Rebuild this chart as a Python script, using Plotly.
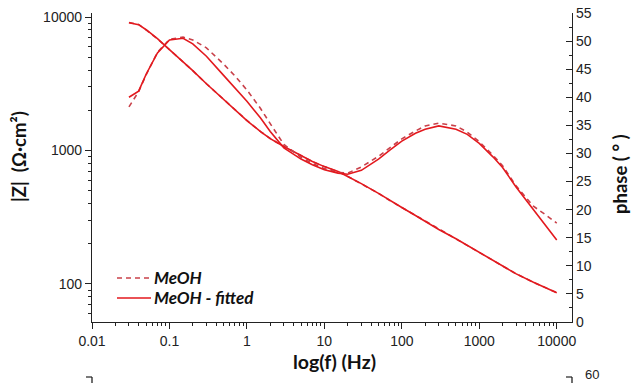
import plotly.graph_objects as go

# ---- data ----
freq = [0.03, 0.04, 0.05, 0.07, 0.1, 0.15, 0.2, 0.3, 0.5, 0.7, 1, 1.5, 2, 3, 5, 7,
        10, 15, 20, 30, 50, 70, 100, 150, 200, 300, 500, 700, 1000, 1500, 2000,
        3000, 5000, 7000, 10000]

z_data = [9100, 8800, 8000, 6850, 5700, 4620, 3960, 3160, 2400, 2020, 1680, 1385,
          1230, 1070, 915, 826, 757, 695, 640, 565, 477, 422, 374, 326, 294, 256,
          218, 195, 172, 150, 136, 119, 103, 94, 86]
z_fit = [9060, 8760, 8030, 6880, 5690, 4620, 3960, 3160, 2400, 2020, 1675, 1385,
         1227, 1070, 916, 826, 757, 695, 638, 565, 477, 422, 374, 326, 294, 256,
         218, 195, 172, 150, 136, 119, 103, 94.5, 86]

phase_data = [38.3, 41.0, 44.0, 48.0, 50.3, 50.7, 50.2, 48.8, 45.9, 43.8, 41.3, 38.0,
              35.3, 31.6, 29.3, 28.2, 27.3, 26.6, 26.5, 27.6, 29.5, 31.0, 32.6, 34.0,
              34.9, 35.4, 34.9, 33.8, 32.1, 29.7, 27.8, 24.2, 20.6, 19.2, 17.6]
phase_fit = [40.0, 41.1, 44.1, 47.9, 50.2, 50.5, 49.5, 47.3, 43.9, 41.6, 39.3, 36.3,
             33.9, 31.0, 29.0, 28.0, 27.1, 26.5, 26.3, 27.0, 29.0, 30.6, 32.2, 33.6,
             34.3, 34.9, 34.3, 33.4, 31.8, 29.4, 27.5, 24.0, 20.0, 17.5, 14.6]

x_ticks = [0.01, 0.1, 1, 10, 100, 1000, 10000]
x_labels = ["0.01", "0.1", "1", "10", "100", "1000", "10000"]
z_ticks = [100, 1000, 10000]
z_labels = ["100", "1000", "10000"]
phase_ticks = [0, 5, 10, 15, 20, 25, 30, 35, 40, 45, 50, 55]
legend_labels = ["MeOH", "MeOH - fitted"]

RED = "#e3191e"
RED_D = "#c9414a"
TICKFONT = dict(family="Liberation Sans, Arial, sans-serif", size=14, color="#222")
TITLEFONT = dict(family="Lato, Open Sans, sans-serif", size=18.5, color="#111", weight="bold")
LEGFONT = dict(family="Lato, Open Sans, sans-serif", size=17, color="#111",
               weight="bold", style="italic")

L, R, T, B = 92, 64, 13, 61
PW, PH = 636 - L - R, 383 - T - B


def px(xp):
    return (xp - L) / PW


def py(yp):
    return (383 - B - yp) / PH


fig = go.Figure()
fig.add_trace(go.Scatter(x=freq, y=z_data, mode="lines", name=legend_labels[0],
                         line=dict(color=RED_D, width=1.6, dash="5px,4px"),
                         showlegend=False, yaxis="y"))
fig.add_trace(go.Scatter(x=freq, y=z_fit, mode="lines", name=legend_labels[1],
                         line=dict(color=RED, width=1.6),
                         showlegend=False, yaxis="y"))
fig.add_trace(go.Scatter(x=freq, y=phase_data, mode="lines", name=legend_labels[0],
                         line=dict(color=RED_D, width=1.6, dash="5px,4px"),
                         showlegend=False, yaxis="y2"))
fig.add_trace(go.Scatter(x=freq, y=phase_fit, mode="lines", name=legend_labels[1],
                         line=dict(color=RED, width=1.6),
                         showlegend=False, yaxis="y2"))

axis_common = dict(showgrid=False, zeroline=False, showline=True, linecolor="#222",
                   linewidth=1.3, ticklen=6, tickwidth=1.2, tickcolor="#222",
                   tickfont=TICKFONT, automargin=False)

fig.update_layout(
    width=636, height=383,
    margin=dict(l=L, r=R, t=T, b=B, autoexpand=False),
    paper_bgcolor="white", plot_bgcolor="white",
    showlegend=False,
    xaxis=dict(type="log", range=[-2, 4.197], tickvals=x_ticks, ticktext=x_labels,
               ticks="outside",
               minor=dict(ticks="outside", ticklen=3, tickwidth=1, tickcolor="#222",
                          dtick="D1", showgrid=False), **axis_common),
    yaxis=dict(type="log", range=[1.715, 4.03], tickvals=z_ticks, ticktext=z_labels,
               ticks="outside",
               minor=dict(ticks="outside", ticklen=3, tickwidth=1, tickcolor="#222",
                          dtick="D1", showgrid=False), **axis_common),
    yaxis2=dict(range=[0, 55], overlaying="y", side="right", tickvals=phase_ticks,
                ticks="inside",
                minor=dict(ticks="inside", ticklen=3, tickwidth=1, tickcolor="#222",
                           dtick=2.5, showgrid=False), **axis_common),
)

# legend drawn as line samples + labels
leg_rows = [(278, RED_D, "5px,4px"), (298, RED, "solid")]
for (yy, col, dsh), lab in zip(leg_rows, legend_labels):
    fig.add_shape(type="line", xref="paper", yref="paper",
                  x0=px(117), x1=px(151), y0=py(yy), y1=py(yy),
                  line=dict(color=col, width=1.6, dash=dsh))
    fig.add_annotation(text=lab, xref="paper", yref="paper", x=px(152), y=py(yy - 1),
                       showarrow=False, xanchor="left", yanchor="middle", font=LEGFONT)

fig.add_annotation(text="|Z|  (Ω·cm²)", xref="paper", yref="paper",
                   x=px(19), y=py(157), textangle=-90,
                   showarrow=False, xanchor="center", yanchor="middle", font=TITLEFONT)
fig.add_annotation(text="phase ( ° )", xref="paper", yref="paper",
                   x=px(620), y=py(174), textangle=-90,
                   showarrow=False, xanchor="center", yanchor="middle", font=TITLEFONT)
fig.add_annotation(text="log(f) (Hz)", xref="paper", yref="paper",
                   x=px(334), y=py(361),
                   showarrow=False, xanchor="center", yanchor="middle",
                   font=dict(family="Lato, Open Sans, sans-serif", size=19.5,
                             color="#111", weight="bold"))
# fragment of the chart below
fig.add_annotation(text="60", xref="paper", yref="paper", x=px(592), y=py(374),
                   showarrow=False, xanchor="center", yanchor="middle",
                   font=dict(family="Liberation Sans, Arial, sans-serif", size=13,
                             color="#222"))
for x_end, x_tick in [(L, L - 6), (636 - R, 636 - R - 6)]:
    fig.add_shape(type="line", xref="paper", yref="paper",
                  x0=px(x_tick), x1=px(x_end), y0=py(377), y1=py(377),
                  line=dict(color="#222", width=1.2))
    fig.add_shape(type="line", xref="paper", yref="paper",
                  x0=px(x_end), x1=px(x_end), y0=py(377), y1=py(384),
                  line=dict(color="#222", width=1.3))

fig.write_html("out.html")
